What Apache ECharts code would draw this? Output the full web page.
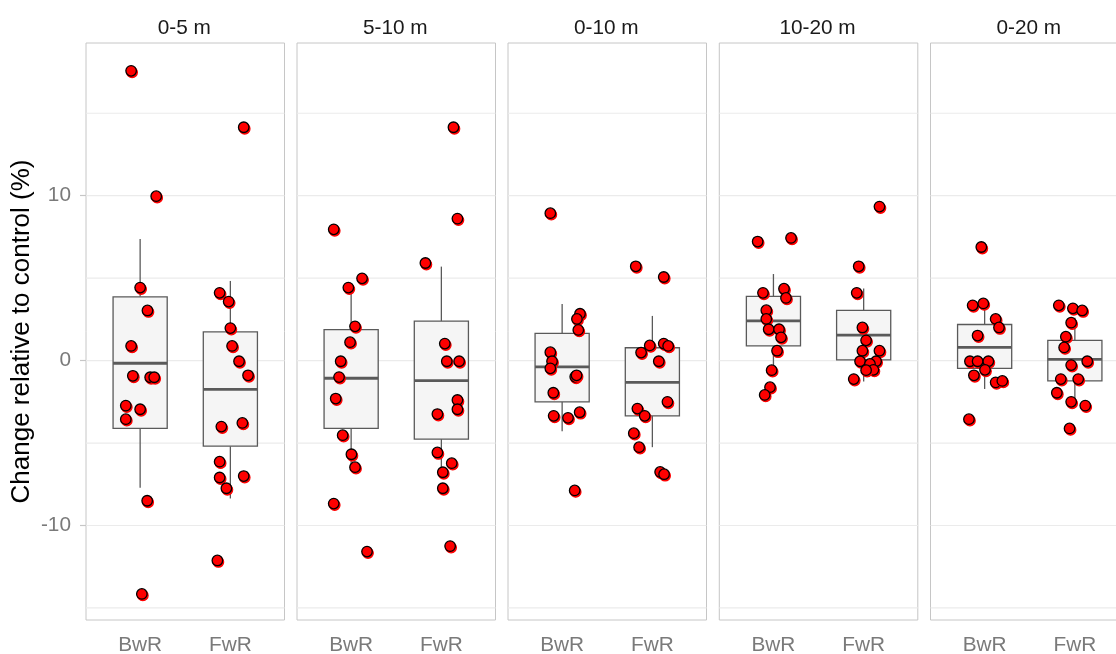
<!DOCTYPE html>
<html><head><meta charset="utf-8">
<script src="https://cdn.jsdelivr.net/npm/echarts@6/dist/echarts.min.js"></script>
<style>html,body{margin:0;padding:0;background:#fff}#c{width:1116px;height:654px}</style>
</head><body><div id="c"></div>
<script>
// ---------------- data ----------------
const panels = ['0-5 m', '5-10 m', '0-10 m', '10-20 m', '0-20 m'];
const groups = ['BwR', 'FwR'];
const yMajorTicks = [-10, 0, 10];
const yMinorTicks = [-15, -5, 5, 15];
const yLimits = [-15.73, 19.26];
const yTitle = 'Change relative to control (%)';

// box stats per panel: [lower whisker, Q1, median, Q3, upper whisker]
const boxBwR = [
  [-7.71, -4.11, -0.16, 3.87, 7.38],
  [-6.46, -4.11, -1.07, 1.88, 4.43],
  [-4.29, -2.50, -0.38, 1.65, 3.44],
  [-0.58, 0.89, 2.41, 3.89, 5.25],
  [-1.72, -0.47, 0.80, 2.19, 3.47]
];
const boxFwR = [
  [-8.36, -5.19, -1.74, 1.74, 4.83],
  [-6.77, -4.76, -1.21, 2.39, 5.70],
  [-5.25, -3.35, -1.32, 0.78, 2.71],
  [-1.27, 0.04, 1.54, 3.04, 4.38],
  [-2.50, -1.23, 0.07, 1.23, 2.60]
];

// observations: [horizontal jitter (category units), value]
const pts_0_5_BwR = [[-0.10,17.57],[0.178,9.97],[0.0,4.43],[0.081,3.04],[-0.10,0.89],[-0.081,-0.92],[0.111,-1.01],[0.156,-1.01],[-0.159,-2.73],[0.0,-2.95],[-0.159,-3.55],[0.078,-8.5],[0.019,-14.15]];
const pts_0_5_FwR = [[0.148,14.15],[-0.119,4.11],[-0.019,3.58],[0.0,1.97],[0.019,0.89],[0.096,-0.04],[0.196,-0.89],[-0.10,-4.0],[0.133,-3.78],[-0.119,-6.13],[-0.119,-7.09],[0.148,-7.0],[-0.044,-7.74],[-0.144,-12.12]];
const pts_5_10_BwR = [[-0.193,7.96],[0.121,4.99],[-0.031,4.43],[0.043,2.08],[-0.012,1.12],[-0.116,-0.04],[-0.134,-1.0],[-0.171,-2.3],[-0.094,-4.52],[0.003,-5.68],[0.043,-6.46],[-0.193,-8.67],[0.176,-11.58]];
const pts_5_10_FwR = [[0.134,14.15],[0.178,8.61],[-0.177,5.92],[0.038,1.03],[0.06,-0.04],[0.197,-0.04],[0.178,-2.39],[0.178,-2.95],[-0.044,-3.24],[-0.044,-5.57],[0.115,-6.22],[0.016,-6.77],[0.016,-7.74],[0.097,-11.25]];
const pts_0_10_BwR = [[-0.131,8.94],[0.198,2.84],[0.164,2.53],[0.179,1.86],[-0.131,0.51],[-0.112,-0.04],[-0.131,-0.47],[0.145,-0.98],[0.16,-0.89],[-0.098,-1.95],[-0.094,-3.35],[0.065,-3.47],[0.194,-3.13],[0.139,-7.87]];
const pts_0_10_FwR = [[-0.184,5.72],[0.126,5.07],[-0.029,0.92],[0.126,1.03],[0.175,0.89],[-0.125,0.49],[0.071,-0.04],[0.167,-2.5],[-0.166,-2.91],[-0.085,-3.35],[-0.206,-4.4],[-0.147,-5.25],[0.086,-6.75],[0.13,-6.89]];
const pts_10_20_BwR = [[-0.175,7.22],[0.195,7.44],[-0.116,4.11],[0.117,4.36],[0.139,3.8],[-0.079,3.06],[-0.079,2.53],[-0.053,1.9],[0.062,1.9],[0.084,1.41],[0.04,0.6],[-0.02,-0.58],[-0.038,-1.61],[-0.097,-2.08]];
const pts_10_20_FwR = [[0.175,9.34],[-0.055,5.72],[-0.077,4.11],[-0.014,2.01],[0.027,1.23],[-0.014,0.6],[0.175,0.6],[-0.04,-0.04],[0.138,-0.04],[0.07,-0.2],[0.108,-0.56],[0.027,-0.58],[-0.11,-1.12]];
const pts_0_20_BwR = [[-0.037,6.89],[-0.133,3.35],[-0.015,3.47],[0.122,2.53],[0.159,2.01],[-0.078,1.52],[-0.163,-0.04],[-0.078,-0.04],[0.041,-0.04],[0.004,-0.56],[-0.119,-0.89],[0.122,-1.32],[0.196,-1.23],[-0.174,-3.55]];
const pts_0_20_FwR = [[-0.178,3.35],[-0.022,3.17],[0.081,3.04],[-0.041,2.3],[-0.1,1.45],[-0.119,0.8],[-0.041,-0.27],[0.137,-0.04],[-0.156,-1.12],[0.037,-1.12],[-0.2,-1.95],[-0.041,-2.5],[0.115,-2.73],[-0.059,-4.11]];

const ptsBwR = [pts_0_5_BwR, pts_5_10_BwR, pts_0_10_BwR, pts_10_20_BwR, pts_0_20_BwR];
const ptsFwR = [pts_0_5_FwR, pts_5_10_FwR, pts_0_10_FwR, pts_10_20_FwR, pts_0_20_FwR];

// ---------------- layout ----------------
const panelLeft = [86, 297, 508, 719.3, 930.5];
const panelWidth = 198.5, panelTop = 43, panelHeight = 577;
const FONT = 'Liberation Sans, Arial, Helvetica, sans-serif';

const grid = [], xAxis = [], yAxis = [], title = [], series = [];

panels.forEach((name, i) => {
  grid.push({left: panelLeft[i], top: panelTop, width: panelWidth, height: panelHeight,
    outerBoundsMode: 'none', containLabel: false,
    show: true, backgroundColor: '#ffffff', borderColor: '#c6c6c6', borderWidth: 1});
  title.push({text: name, left: panelLeft[i] + panelWidth / 2 - 1, top: 18, textAlign: 'center', padding: 0,
    textStyle: {fontFamily: FONT, fontSize: 20.8, fontWeight: 'normal', color: '#1a1a1a'}});
  xAxis.push({type: 'value', gridIndex: i, min: 0.4, max: 2.6,
    splitLine: {show: false}, axisLine: {show: false},
    axisTick: {show: true, customValues: [1, 2], length: 6, lineStyle: {color: '#c6c6c6', width: 1.2}},
    axisLabel: {show: true, customValues: [1, 2], formatter: v => groups[Math.round(v) - 1] || '',
      color: '#7a7a7a', fontSize: 20.8, fontFamily: FONT, margin: 15}});
  yAxis.push({type: 'value', gridIndex: i, min: yLimits[0], max: yLimits[1],
    splitLine: {show: false}, axisLine: {show: false},
    axisTick: {show: i === 0, customValues: yMajorTicks, length: 6, lineStyle: {color: '#c6c6c6', width: 1.2}},
    axisLabel: {show: i === 0, customValues: yMajorTicks, color: '#7a7a7a', fontSize: 20.8, fontFamily: FONT, margin: 15},
    name: i === 0 ? yTitle : '', nameLocation: 'middle', nameRotate: 90, nameGap: 51,
    nameTextStyle: {fontFamily: FONT, fontSize: 26, color: '#000000'}});

  // grid lines
  series.push({type: 'custom', xAxisIndex: i, yAxisIndex: i, z: 1, silent: true,
    data: yMinorTicks.concat(yMajorTicks).map(v => [1, v]),
    encode: {x: 0, y: 1},
    renderItem: (params, api) => {
      const cs = params.coordSys;
      const y = api.coord([1, api.value(1)])[1];
      return {type: 'line', shape: {x1: cs.x, y1: y, x2: cs.x + cs.width, y2: y},
        style: {stroke: '#ebebeb', lineWidth: 1.2}};
    }});

  // boxes
  series.push({type: 'custom', xAxisIndex: i, yAxisIndex: i, z: 2, silent: true,
    data: [[1].concat(boxBwR[i]), [2].concat(boxFwR[i])],
    encode: {x: 0, y: [1, 2, 3, 4, 5]},
    renderItem: (params, api) => {
      const x = api.value(0);
      const lo = api.coord([x, api.value(1)]), q1 = api.coord([x, api.value(2)]),
            md = api.coord([x, api.value(3)]), q3 = api.coord([x, api.value(4)]),
            hi = api.coord([x, api.value(5)]);
      const hw = api.size([0.3, 0])[0];
      const st = {stroke: '#5a5a5a', lineWidth: 1.3};
      return {type: 'group', children: [
        {type: 'line', shape: {x1: lo[0], y1: lo[1], x2: q1[0], y2: q1[1]}, style: st},
        {type: 'line', shape: {x1: q3[0], y1: q3[1], x2: hi[0], y2: hi[1]}, style: st},
        {type: 'rect', shape: {x: q1[0] - hw, y: q3[1], width: 2 * hw, height: q1[1] - q3[1]},
          style: {fill: '#f5f5f5', stroke: '#5a5a5a', lineWidth: 1.3}},
        {type: 'line', shape: {x1: md[0] - hw, y1: md[1], x2: md[0] + hw, y2: md[1]},
          style: {stroke: '#5a5a5a', lineWidth: 2.8}}
      ]};
    }});

  // points
  [[ptsBwR[i], 1], [ptsFwR[i], 2]].forEach(([pts, c]) => {
    series.push({type: 'scatter', xAxisIndex: i, yAxisIndex: i, z: 3, silent: true,
      symbol: 'circle', symbolSize: 10.5,
      data: pts.map(p => [c + p[0], p[1]]),
      itemStyle: {color: '#ff0000', borderColor: '#000000', borderWidth: 1.3,
        shadowColor: '#ff0000', shadowBlur: 0, shadowOffsetX: 1, shadowOffsetY: 1.5, opacity: 1}});
  });
});

const chart = echarts.init(document.getElementById('c'), null, {renderer: 'canvas'});
chart.setOption({animation: false, backgroundColor: '#ffffff', title, grid, xAxis, yAxis, series});
</script>
</body></html>
